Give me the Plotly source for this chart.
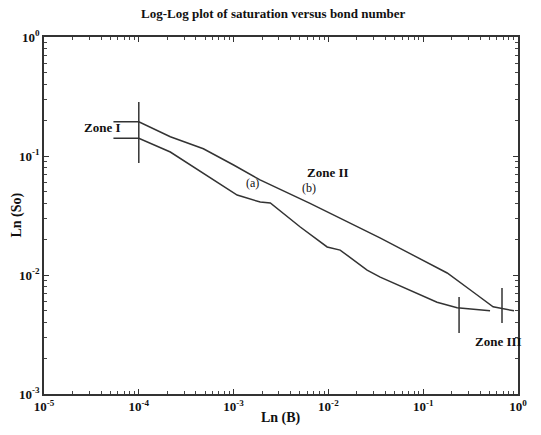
import plotly.graph_objects as go

# Curve (b): upper
b_x = [5.4e-5, 1.0e-4, 2.15e-4, 4.8e-4, 1.0e-3, 1.9e-3, 6.4e-3, 3.5e-2, 7.8e-2, 0.179, 0.336, 0.546, 0.908]
b_y = [0.194, 0.194, 0.145, 0.115, 0.084, 0.063, 0.040, 0.0205, 0.0147, 0.0104, 0.0072, 0.0054, 0.0050]

# Curve (a): lower
a_x = [5.4e-5, 1.0e-4, 2.15e-4, 4.8e-4, 8.6e-4, 1.09e-3, 1.91e-3, 2.44e-3, 5.05e-3, 9.7e-3,
       1.33e-2, 2.56e-2, 3.52e-2, 7.83e-2, 0.140, 0.228, 0.507]
a_y = [0.141, 0.141, 0.108, 0.0719, 0.0538, 0.0470, 0.0410, 0.0403, 0.0253, 0.0172,
       0.0162, 0.0110, 0.0096, 0.0072, 0.0059, 0.0053, 0.0050]

# Zone boundary markers (x, y_low, y_high)
markers = [(1.0e-4, 0.0873, 0.284), (0.239, 0.00326, 0.00653), (0.678, 0.00395, 0.00778)]

# Text labels (text, log10 x, log10 y, bold)
labels = [("Zone I", -4.39, -0.76, True),
          ("Zone II", -2.0, -1.14, True),
          ("(a)", -2.8, -1.23, False),
          ("(b)", -2.2, -1.265, False),
          ("Zone III", -0.21, -2.56, True)]

x_ticks = [1e-5, 1e-4, 1e-3, 1e-2, 1e-1, 1e0]
x_ticktext = ["10<sup>-5</sup>", "10<sup>-4</sup>", "10<sup>-3</sup>", "10<sup>-2</sup>", "10<sup>-1</sup>", "10<sup>0</sup>"]
y_ticks = [1e-3, 1e-2, 1e-1, 1e0]
y_ticktext = ["10<sup>-3</sup>", "10<sup>-2</sup>", "10<sup>-1</sup>", "10<sup>0</sup>"]

title_text = "Log-Log plot of saturation versus bond number"
x_title = "Ln (B)"
y_title = "Ln (So)"

FONT = "Liberation Serif"
LINE = "#333333"
TXT = "#111111"


def minor_vals(lo, hi):
    vals = []
    for e in range(lo, hi):
        for m in range(2, 10):
            vals.append(m * 10.0 ** e)
    return vals


fig = go.Figure()
fig.add_trace(go.Scatter(x=b_x, y=b_y, mode="lines", line=dict(color=LINE, width=1.5), showlegend=False))
fig.add_trace(go.Scatter(x=a_x, y=a_y, mode="lines", line=dict(color=LINE, width=1.5), showlegend=False))
for mx, y0, y1 in markers:
    fig.add_trace(go.Scatter(x=[mx, mx], y=[y0, y1], mode="lines", line=dict(color=LINE, width=1.5), showlegend=False))

for t, lx, ly, bold in labels:
    fig.add_annotation(x=lx, y=ly, text=t, showarrow=False, xref="x", yref="y",
                       font=dict(family=FONT, size=13 if bold else 12, color=TXT, weight="bold" if bold else "normal"))

# Axis titles as annotations for precise placement
fig.add_annotation(x=0.5, y=-0.067, xref="paper", yref="paper", text=x_title, showarrow=False,
                   xanchor="center", yanchor="middle",
                   font=dict(family=FONT, size=14, color=TXT, weight="bold"))
fig.add_annotation(x=-0.059, y=0.5, xref="paper", yref="paper", text=y_title, showarrow=False,
                   xanchor="center", yanchor="middle", textangle=-90,
                   font=dict(family=FONT, size=14, color=TXT, weight="bold"))

axis_common = dict(
    type="log", showgrid=False, zeroline=False, automargin=False,
    showline=True, linecolor="#333", linewidth=1.5, mirror="allticks",
    ticks="inside", ticklen=5, tickcolor="#333", tickmode="array",
    tickfont=dict(family=FONT, size=13, color=TXT, weight="bold"),
)

fig.update_xaxes(range=[-5, 0], tickvals=x_ticks, ticktext=x_ticktext, ticklabelstandoff=0,
                 minor=dict(ticks="inside", ticklen=3, tickcolor="#444", showgrid=False, tickmode="array", tickvals=minor_vals(-5, 0)),
                 **axis_common)
fig.update_yaxes(range=[-3, 0], tickvals=y_ticks, ticktext=y_ticktext, ticklabelstandoff=0,
                 minor=dict(ticks="inside", ticklen=3, tickcolor="#444", showgrid=False, tickmode="array", tickvals=minor_vals(-3, 0)),
                 **axis_common)

fig.update_layout(
    width=541, height=435,
    margin=dict(l=44, r=23, t=37, b=41),
    plot_bgcolor="white", paper_bgcolor="white",
    title=dict(text=title_text, x=0.505, xanchor="center", y=0.968, yanchor="middle",
               font=dict(family=FONT, size=13, color=TXT, weight="bold")),
)

fig.write_html("out.html")
